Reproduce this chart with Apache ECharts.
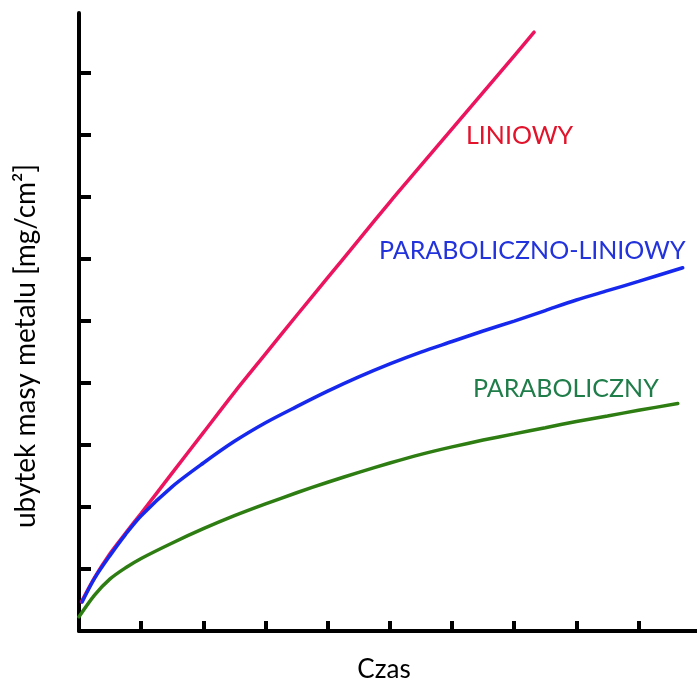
<!DOCTYPE html>
<html>
<head>
<meta charset="utf-8">
<script src="https://cdn.jsdelivr.net/npm/echarts@6/dist/echarts.min.js"></script>
<style>
  html, body { margin: 0; padding: 0; background: #ffffff; }
  #chart { width: 697px; height: 682px; }
</style>
</head>
<body>
<div id="chart"></div>
<script>
// Czas (time, in tick units) and mass loss for each oxidation law
const timeLinear = [0.04, 0.25, 0.5, 0.75, 1.0, 1.5, 2.0, 2.5, 3.0, 3.5, 4.0, 4.5, 5.0, 5.5, 6.0, 6.5, 7.0, 7.32];
const massLinear = [0.47, 0.86, 1.25, 1.58, 1.90, 2.55, 3.20, 3.85, 4.47, 5.09, 5.70, 6.31, 6.92, 7.51, 8.10, 8.69, 9.28, 9.66];

const timeParaLinear = [0.05, 0.25, 0.5, 0.75, 1.0, 1.5, 2.0, 2.5, 3.0, 3.5, 4.0, 4.5, 5.0, 5.5, 6.0, 6.5, 7.0, 7.5, 8.0, 8.5, 9.0, 9.71];
const massParaLinear = [0.47, 0.85, 1.22, 1.56, 1.86, 2.33, 2.71, 3.06, 3.36, 3.62, 3.87, 4.10, 4.31, 4.50, 4.67, 4.84, 5.00, 5.17, 5.34, 5.49, 5.64, 5.86];

const timeParabolic = [0.00, 0.25, 0.5, 0.75, 1.0, 1.5, 2.0, 2.5, 3.0, 3.5, 4.0, 4.5, 5.0, 5.5, 6.0, 6.5, 7.0, 7.5, 8.0, 8.5, 9.0, 9.63];
const massParabolic = [0.23, 0.58, 0.84, 1.02, 1.17, 1.42, 1.65, 1.86, 2.05, 2.23, 2.40, 2.56, 2.71, 2.85, 2.97, 3.08, 3.18, 3.28, 3.38, 3.47, 3.56, 3.67];

const tickValues = [1, 2, 3, 4, 5, 6, 7, 8, 9];

const seriesNames = ['LINIOWY', 'PARABOLICZNO-LINIOWY', 'PARABOLICZNY'];
const xAxisTitle = 'Czas';
const yAxisTitle = 'ubytek masy metalu [mg/cm²]';

const FONT = 'Lato';

function pairs(xs, ys) {
  return xs.map((x, i) => [x, ys[i]]);
}

const chart = echarts.init(document.getElementById('chart'), null, { renderer: 'canvas' });

function curve(name, xs, ys, color) {
  return {
    name: name,
    type: 'line',
    data: pairs(xs, ys),
    smooth: 0.3,
    showSymbol: false,
    symbol: 'none',
    clip: false,
    lineStyle: { color: color, width: 3.5, cap: 'round' },
    z: 3
  };
}

const axisBase = {
  type: 'value',
  min: 0,
  axisLine: { show: true, lineStyle: { color: '#000000', width: 4 } },
  axisLabel: { show: false },
  splitLine: { show: false }
};

chart.setOption({
  animation: false,
  backgroundColor: '#ffffff',
  grid: { left: 79, right: 0, top: 13, bottom: 51, containLabel: false },
  xAxis: Object.assign({}, axisBase, {
    max: 9.94,
    axisTick: { show: true, inside: true, length: 10, customValues: tickValues,
                lineStyle: { color: '#000000', width: 4 } }
  }),
  yAxis: Object.assign({}, axisBase, {
    max: 9.97,
    axisTick: { show: true, inside: true, length: 12, customValues: tickValues,
                lineStyle: { color: '#000000', width: 4 } }
  }),
  series: [
    curve(seriesNames[0], timeLinear, massLinear, '#ec145e'),
    curve(seriesNames[1], timeParaLinear, massParaLinear, '#1628ee'),
    curve(seriesNames[2], timeParabolic, massParabolic, '#2e7d12')
  ],
  graphic: [
    { type: 'text', left: 466, top: 123,
      style: { text: seriesNames[0], fill: '#e2132b', font: '25px ' + FONT } },
    { type: 'text', left: 379, top: 238,
      style: { text: seriesNames[1], fill: '#2233dc', font: '25px ' + FONT } },
    { type: 'text', left: 473, top: 376,
      style: { text: seriesNames[2], fill: '#1f7d4a', font: '25px ' + FONT } },
    { type: 'text', x: 384, y: 670,
      style: { text: xAxisTitle, fill: '#000000', font: '26px ' + FONT,
               align: 'center', verticalAlign: 'middle' } },
    { type: 'text', x: 26, y: 346, rotation: Math.PI / 2,
      style: { text: yAxisTitle, fill: '#000000', font: '28px ' + FONT,
               align: 'center', verticalAlign: 'middle' } }
  ]
});
</script>
</body>
</html>
